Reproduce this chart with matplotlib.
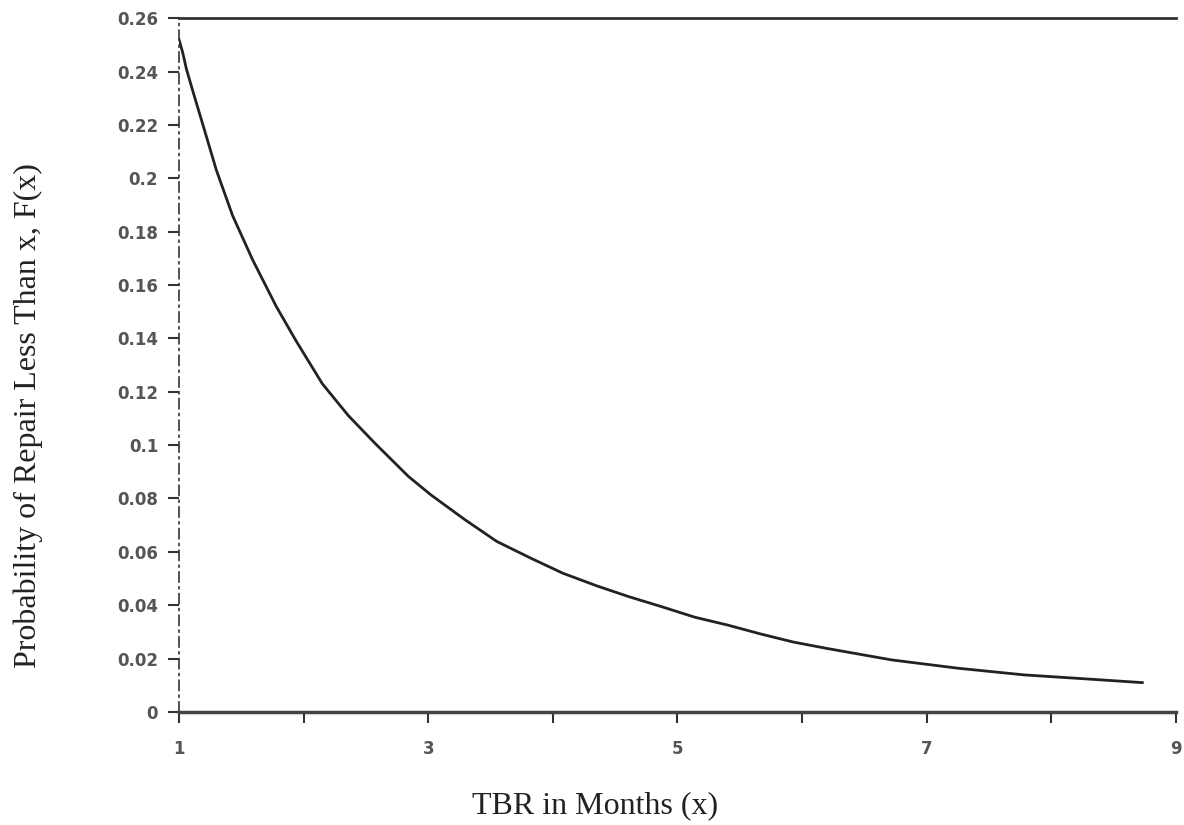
import matplotlib
matplotlib.use("Agg")
import matplotlib.pyplot as plt

# values
tbr = [1.00, 1.03, 1.06, 1.115, 1.195, 1.30, 1.43, 1.59, 1.78, 1.94, 2.15, 2.36,
       2.57, 2.84, 3.02, 3.29, 3.55, 3.82, 4.08, 4.35, 4.61, 4.87, 5.14, 5.40,
       5.67, 5.93, 6.20, 6.72, 7.25, 7.78, 8.31, 8.73]
prob = [0.252, 0.247, 0.2408, 0.232, 0.2195, 0.203, 0.186, 0.1695, 0.152, 0.139,
        0.123, 0.111, 0.1008, 0.0883, 0.0814, 0.0722, 0.0639, 0.0577, 0.0520,
        0.0473, 0.0432, 0.0395, 0.0355, 0.0326, 0.0292, 0.0262, 0.0238, 0.0195,
        0.0164, 0.0139, 0.0123, 0.0110]

x_major = [1, 3, 5, 7, 9]
x_minor = [2, 4, 6, 8]
y_ticks = [0, 0.02, 0.04, 0.06, 0.08, 0.1, 0.12, 0.14, 0.16, 0.18, 0.2, 0.22, 0.24, 0.26]
y_labels = ['0', '0.02', '0.04', '0.06', '0.08', '0.1', '0.12', '0.14', '0.16',
            '0.18', '0.2', '0.22', '0.24', '0.26']

fig = plt.figure(figsize=(11.84, 8.25), dpi=100)
ax = fig.add_axes([0.1512, 0.137, 0.842, 0.841])

ax.plot(tbr, prob, color='#222222', lw=2.0)

ax.set_xlim(1, 9)
ax.set_ylim(0, 0.26)

ax.set_xticks(x_major)
ax.set_xticks(x_minor, minor=True)
ax.set_xticklabels([str(v) for v in x_major])
ax.set_yticks(y_ticks)
ax.set_yticklabels(y_labels)

ax.tick_params(axis='both', which='both', direction='out', length=8, width=1.5,
               color='#333333', labelcolor='#555555')
ax.tick_params(axis='y', pad=7)
ax.tick_params(axis='x', pad=12)
for lab in ax.get_xticklabels() + ax.get_yticklabels():
    lab.set_fontweight('bold')
    lab.set_fontsize(12)

ax.spines['right'].set_visible(False)
ax.spines['top'].set_color('#333333')
ax.spines['top'].set_linewidth(2)
ax.spines['bottom'].set_color('#444444')
ax.spines['bottom'].set_linewidth(2.5)
ax.spines['left'].set_color('#333333')
ax.spines['left'].set_linewidth(1.2)
ax.spines['left'].set_linestyle((0, (6, 3, 1, 3)))

# axis titles sit off-centre in the original scan
fig.text(595 / 1184, 1 - 806 / 825, 'TBR in Months (x)', family='Liberation Serif',
         fontsize=23, color='#222222', ha='center', va='center')
fig.text(28 / 1184, 1 - 416 / 825, 'Probability of Repair Less Than x, F(x)',
         family='Liberation Serif', fontsize=23, color='#222222',
         rotation=90, ha='center', va='center')

fig.savefig('out.png', dpi=100)
